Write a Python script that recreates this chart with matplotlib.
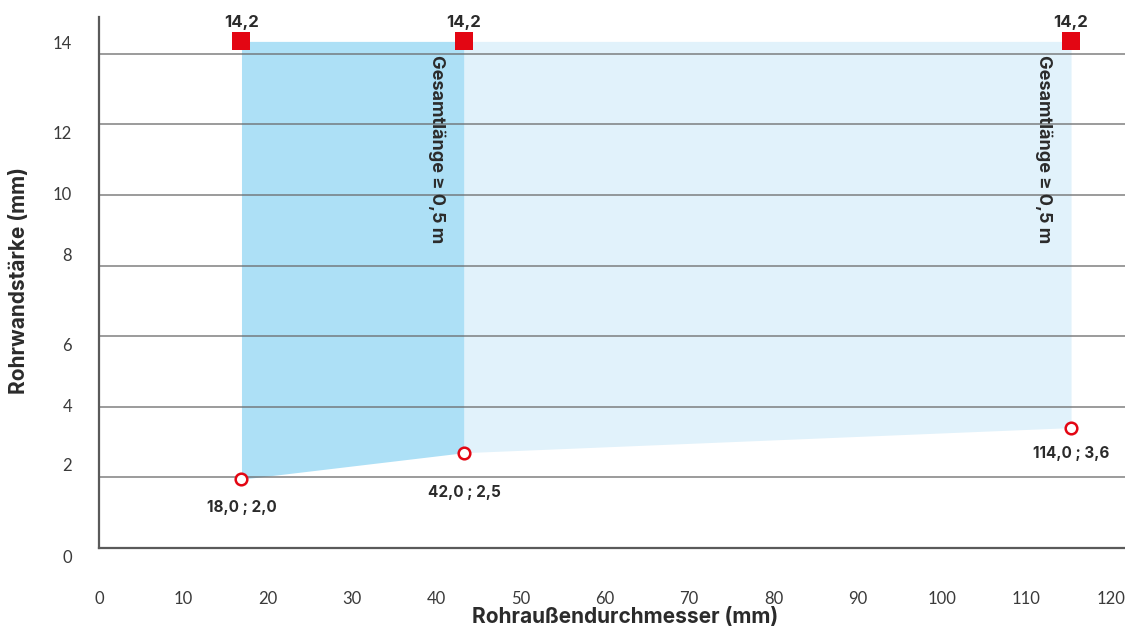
import matplotlib
matplotlib.use("Agg")
import matplotlib.pyplot as plt

plt.rcParams['font.family'] = ['Inter', 'DejaVu Sans']

# ---- data ----
x_pts = [16.9, 43.3, 115.3]          # plotted outer diameter positions
y_pts = [1.95, 2.70, 3.41]           # plotted wall thickness positions
pt_labels = ["18,0 ; 2,0", "42,0 ; 2,5", "114,0 ; 3,6"]
top_val = 14.35
top_label = "14,2"
region_text = "Gesamtlänge ≥ 0,5 m"
x_ticks = [0, 10, 20, 30, 40, 50, 60, 70, 80, 90, 100, 110, 120]
y_ticks = [0, 2, 4, 6, 8, 10, 12, 14]
x_title = "Rohraußendurchmesser (mm)"
y_title = "Rohrwandstärke (mm)"

# ---- style ----
dark_fill = "#ade0f6"
light_fill = "#e1f2fb"
red = "#e30613"
grid_col = "#6a6a6a"
txt = "#2b2b2b"
tick_font = ['Lato', 'DejaVu Sans']

fig = plt.figure(figsize=(11.25, 6.27), dpi=100)
ax = fig.add_axes([0.088, 0.126, 0.912, 0.8474])
ax.set_xlim(0, 121.7)
ax.set_ylim(0, 15.05)

# filled regions
ax.fill_between(x_pts[0:2], y_pts[0:2], [top_val, top_val], color=dark_fill, lw=0, zorder=1)
ax.fill_between(x_pts[1:3], y_pts[1:3], [top_val, top_val], color=light_fill, lw=0, zorder=1)

# gridlines
for yv in y_ticks[1:]:
    ax.axhline(yv, color=grid_col, lw=1.1, alpha=0.85, zorder=2)

# markers
ax.scatter(x_pts, [top_val] * 3, marker='s', s=150, color=red, zorder=4, linewidths=0)
ax.scatter(x_pts, y_pts, marker='o', s=70, facecolor='white', edgecolor=red, linewidths=1.8, zorder=4)

for xv in x_pts:
    ax.annotate(top_label, (xv, top_val), xytext=(0, 19), textcoords='offset pixels',
                ha='center', va='center', fontsize=12, fontweight='bold', color=txt)

lbl_off = [-28, -40, -26]
for xv, yv, lab, off in zip(x_pts, y_pts, pt_labels, lbl_off):
    ax.annotate(lab, (xv, yv), xytext=(0, off), textcoords='offset pixels',
                ha='center', va='center', fontsize=11, fontweight='bold', color=txt)

# vertical region texts
for xv in [x_pts[1], x_pts[2]]:
    ax.annotate(region_text, (xv, top_val), xytext=(-27, -108), textcoords='offset pixels',
                ha='center', va='center', rotation=-90, fontsize=13, fontweight='bold', color=txt)

# spines
for s in ['top', 'right']:
    ax.spines[s].set_visible(False)
for s in ['left', 'bottom']:
    ax.spines[s].set_color("#5a5a5a")
    ax.spines[s].set_linewidth(1.6)

ax.set_xticks(x_ticks)
ax.set_xticklabels([str(v) for v in x_ticks], family=tick_font)
ax.tick_params(axis='x', length=0, pad=31, labelsize=12, labelcolor="#3a3a3a")
ax.set_yticks(y_ticks)
ax.set_yticklabels([])
ax.tick_params(axis='y', length=0)

# y tick labels with the reference's offsets
y_lbl_off = [-10, 11, 0, -10, 10, 0, -10, 10]
for yv, off in zip(y_ticks, y_lbl_off):
    ax.annotate(str(yv), (0, yv), xytext=(-27, off), textcoords='offset pixels',
                ha='right', va='center', fontsize=12, family=tick_font, color="#3a3a3a")

fig.text(0.5556, 1 - 617 / 627, x_title, ha='center', va='center', fontsize=15,
         fontweight='bold', color=txt)
fig.text(19 / 1125, 1 - 280 / 627, y_title, ha='center', va='center', rotation=90,
         fontsize=15, fontweight='bold', color=txt)

fig.savefig("out.png", dpi=100)
